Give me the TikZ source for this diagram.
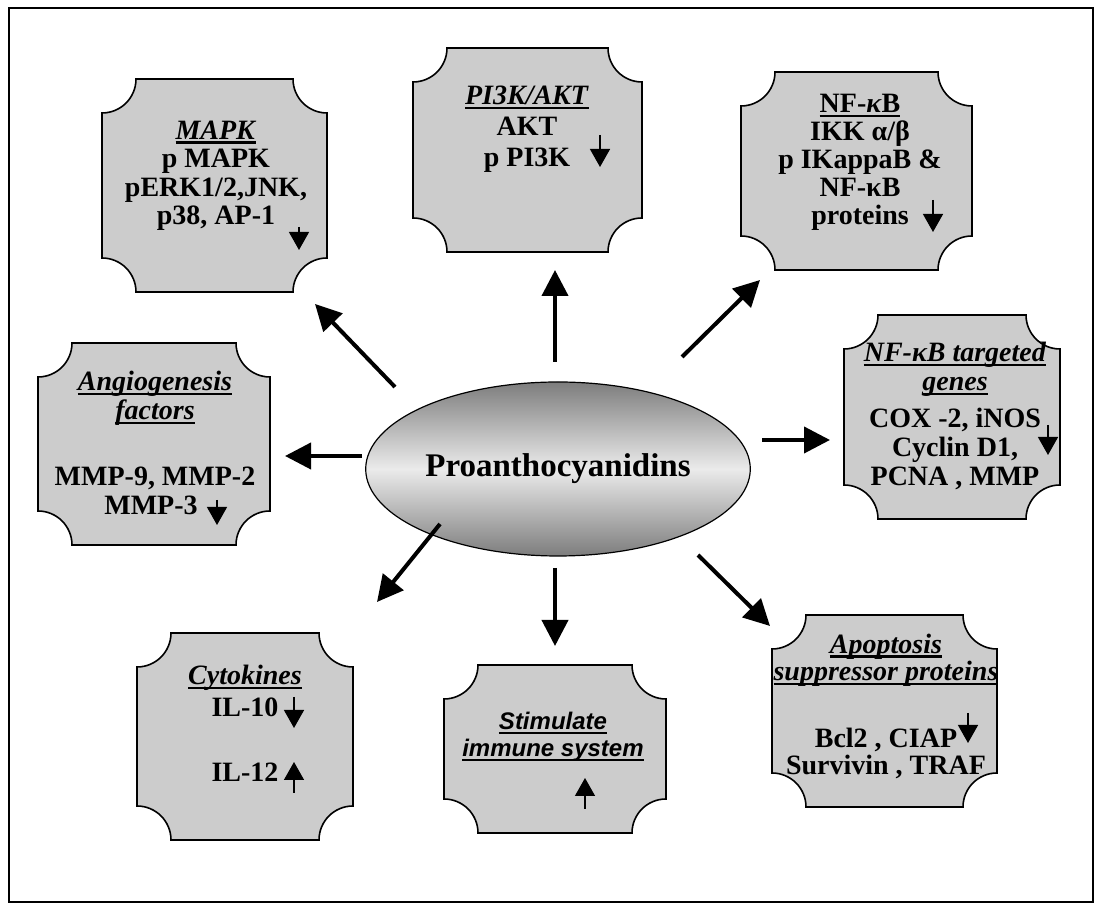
\documentclass[tikz,border=0pt]{standalone}
\usepackage{fontspec}
\setmainfont{Liberation Serif}
\setsansfont{Liberation Sans}
\usetikzlibrary{shapes.geometric,arrows.meta}
\definecolor{boxgray}{RGB}{204,204,204}
\definecolor{elledge}{RGB}{125,125,125}
\definecolor{ellmid}{RGB}{235,235,235}
\newcommand\myul[1]{\leavevmode\setbox0=\hbox{#1}\rlap{\vrule width\wd0 height -2pt depth 4.5pt}\box0}
\newcommand\notchr{34pt}
\newcommand\notchbox[1]{%
  \draw[notch] ([xshift=\notchr]#1.north west) -- ([xshift=-\notchr]#1.north east)
    arc[start angle=180,end angle=270,radius=\notchr]
    -- ([yshift=\notchr]#1.south east)
    arc[start angle=90,end angle=180,radius=\notchr]
    -- ([xshift=\notchr]#1.south west)
    arc[start angle=0,end angle=90,radius=\notchr]
    -- ([yshift=-\notchr]#1.north west)
    arc[start angle=270,end angle=360,radius=\notchr] -- cycle;}
\begin{document}
\begin{tikzpicture}[x=1pt,y=1pt,
  boxgeom/.style={rectangle, inner sep=0pt, outer sep=0pt, draw=none},
  notch/.style={draw=black, line width=1.6pt, fill=boxgray},
  txt/.style={align=center, anchor=base, inner sep=0pt, font=\fontsize{28}{28.5}\selectfont\bfseries},
  bigarr/.style={line width=4pt, -{Triangle[length=26pt,width=26pt]}},
  smallarr/.style={line width=1.4pt, -{Triangle[length=18pt,width=20pt]}}]
\useasboundingbox (0,0) rectangle (1095,904);
\draw[line width=1.5pt] (9,904-8) rectangle (1093,904-902);

% boxes (geometry)
\node[boxgeom, minimum width=225, minimum height=213] (mapk) at (214.5,904-185.5) {};
\node[boxgeom, minimum width=229, minimum height=204] (pik) at (527.5,904-150) {};
\node[boxgeom, minimum width=231, minimum height=198] (nfkb) at (856.5,904-171) {};
\node[boxgeom, minimum width=216, minimum height=204] (targ) at (952,904-417) {};
\node[boxgeom, minimum width=232, minimum height=202] (angio) at (154,904-444) {};
\node[boxgeom, minimum width=216, minimum height=207] (cyto) at (245,904-736.5) {};
\node[boxgeom, minimum width=222, minimum height=168] (stim) at (555,904-749) {};
\node[boxgeom, minimum width=225, minimum height=192] (apop) at (884.5,904-711) {};
\notchbox{mapk}\notchbox{pik}\notchbox{nfkb}\notchbox{targ}
\notchbox{angio}\notchbox{cyto}\notchbox{stim}\notchbox{apop}

% texts (anchored at the baseline of the last line)
\node[txt] (tmapk) at (216,904-225) {\myul{\textit{MAPK}}\\p MAPK\\pERK1/2,JNK,\\p38, AP-1};
\node[txt, font=\fontsize{28}{31}\selectfont\bfseries] (tpik) at (527,904-167) {\myul{\textit{PI3K/AKT}}\\AKT\\p PI3K};
\node[txt, font=\fontsize{28}{28}\selectfont\bfseries] (tnfkb) at (860,904-225) {\myul{NF-\textit{κ}B}\\IKK α/β\\p IKappaB \&\\NF-κB\\proteins};
\node[txt, font=\fontsize{28}{29}\selectfont\bfseries] (ttarg) at (955,904-486) {\myul{\textit{NF-κB targeted}}\\\myul{\textit{genes}}\\[8pt]COX -2, iNOS\\Cyclin D1,\\PCNA , MMP};
\node[txt, font=\fontsize{28}{29}\selectfont\bfseries] (tangio) at (155,904-515) {\myul{\textit{Angiogenesis}}\\\myul{\textit{factors}}\\[37pt]MMP-9, MMP-2\\MMP-3\hspace*{8pt}};
\node[txt, font=\fontsize{28}{32}\selectfont\bfseries] (tcyto) at (245,904-782) {\myul{\textit{Cytokines}}\\IL-10\\[33pt]IL-12};
\node[txt, font=\fontsize{24}{27}\selectfont\sffamily\bfseries\itshape] (tstim) at (553,904-757) {\myul{Stimulate}\\\myul{immune system}};
\node[txt, font=\fontsize{28}{27.5}\selectfont\bfseries] (tapop) at (886,904-775) {\myul{\textit{Apoptosis}}\\\myul{\textit{suppressor proteins}}\\[39pt]Bcl2 , CIAP\\Survivin , TRAF};

% small up/down arrows
\draw[smallarr] (299,904-227) -- (299,904-250);
\draw[smallarr] (600,904-135) -- (600,904-167);
\draw[smallarr] (933,904-200) -- (933,904-232);
\draw[smallarr] (1048,904-425) -- (1048,904-455);
\draw[smallarr] (217,904-500) -- (217,904-525);
\draw[smallarr] (294,904-697) -- (294,904-728);
\draw[smallarr] (294,904-793) -- (294,904-762);
\draw[smallarr] (585,904-809) -- (585,904-778);
\draw[smallarr] (968,904-713) -- (968,904-743);

% central ellipse
\node[ellipse, draw=black, line width=1.2pt, minimum width=362, minimum height=174,
  top color=elledge, bottom color=elledge, middle color=ellmid,
  font=\fontsize{33}{36}\selectfont\bfseries] (pro) at (558,904-469) {Proanthocyanidins};

% connector end points
\coordinate (a1s) at (395,904-387); \coordinate (a1e) at (315,904-304);
\coordinate (a2s) at (555,904-362); \coordinate (a2e) at (555,904-270);
\coordinate (a3s) at (682,904-357); \coordinate (a3e) at (760,904-280);
\coordinate (a4s) at (762,904-440); \coordinate (a4e) at (830,904-440);
\coordinate (a5s) at (362,904-456); \coordinate (a5e) at (285,904-456);
\coordinate (a6s) at (440,904-524); \coordinate (a6e) at (377,904-602);
\coordinate (a7s) at (555,904-568); \coordinate (a7e) at (555,904-646);
\coordinate (a8s) at (698,904-555); \coordinate (a8e) at (770,904-626);
\foreach \i in {1,...,8} {\draw[bigarr] (a\i s) -- (a\i e);}
\end{tikzpicture}
\end{document}
